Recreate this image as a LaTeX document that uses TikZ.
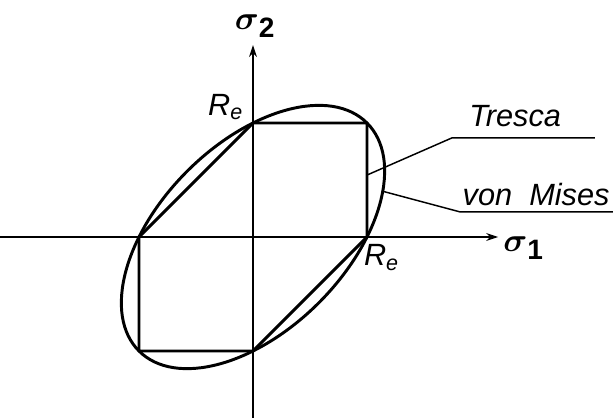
\documentclass[tikz,border=0pt]{standalone}
\usepackage{amsmath, amssymb}
\usepackage{fontspec}
\setmainfont{Liberation Sans}
\usepackage{tikz}
\usetikzlibrary{positioning, arrows.meta}

\begin{document}
\begin{tikzpicture}[
    axis/.style={line width=0.8pt, -{Stealth[length=9pt, width=6pt]}},
    yieldline/.style={line width=2.2pt, line join=round},
    leader/.style={line width=1.1pt},
    hand/.style={font=\fontsize{23}{26}\selectfont\itshape, inner sep=1pt},
    axlabel/.style={font=\fontsize{30}{32}\selectfont, inner sep=1pt}
  ]
    \useasboundingbox (-6.658,-4.763) rectangle (9.474,6.237);

    % Axes
    \coordinate (o) at (0,0);
    \coordinate (xstart) at (-6.658,0);
    \coordinate (xend) at (6.45,0);
    \coordinate (ystart) at (0,-4.763);
    \coordinate (yend) at (0,5.05);
    \draw[axis] (xstart) -- (xend);
    \draw[axis] (ystart) -- (yend);
    \node[axlabel] (s1) at (7.12,-0.3) {$\boldsymbol{\sigma}_{\mathbf 1}$};
    \node[axlabel] (s2) at (0.05,5.55) {$\boldsymbol{\sigma}_{\mathbf 2}$};

    % von Mises ellipse
    \draw[yieldline] (o) ellipse[x radius=4.243cm, y radius=2.449cm, rotate=45];

    % Tresca hexagon
    \draw[yieldline] (3,0) -- (3,3) -- (0,3) -- (-3,0) -- (-3,-3) -- (0,-3) -- cycle;

    % Re marks
    \node[hand] (re1) at (-0.72,3.42) {R$_\text{e}$};
    \node[hand] (re2) at (3.38,-0.55) {R$_\text{e}$};

    % Labels with leaders
    \node[hand] (tresca) at (6.9,3.18) {Tresca};
    \node[hand] (mises) at (7.45,1.12) {von~~Mises};
    \coordinate (t0) at (3,1.63);
    \coordinate (t1) at (5.24,2.61);
    \coordinate (t2) at (9.0,2.61);
    \coordinate (m0) at (3.39,1.21);
    \coordinate (m1) at (5.45,0.66);
    \coordinate (m2) at (9.474,0.66);
    \draw[leader] (t0) -- (t1) -- (t2);
    \draw[leader] (m0) -- (m1) -- (m2);
\end{tikzpicture}
\end{document}
